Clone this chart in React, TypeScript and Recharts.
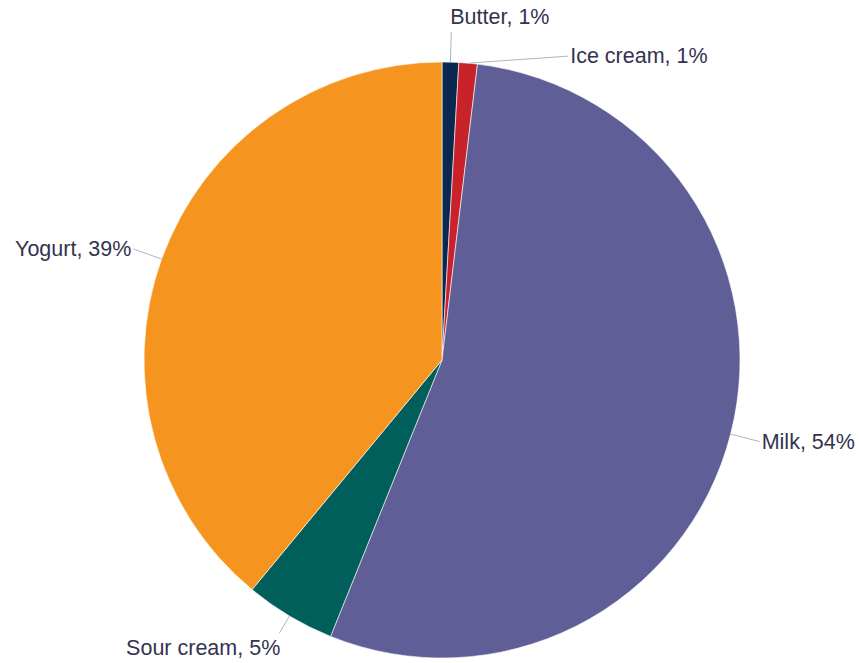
import { PieChart, Pie, Cell } from "recharts";

const categories = ["Butter", "Ice cream", "Milk", "Sour cream", "Yogurt"];
const shares = [0.9, 1.0, 54.2, 4.9, 39.0];
const colors = ["#0b2850", "#c8232b", "#5f5e96", "#005f5b", "#f5951f"];

const data = categories.map((name, i) => ({ name, value: shares[i] }));

const RAD = Math.PI / 180;
const TEXT = "#33334f";
const LINE = "#aab6c8";

// per-label tweaks so the small slices don't collide
type Tweak = { len?: number; endDx?: number; endDy?: number; tdx?: number; tdy?: number; anchor?: "start" | "end" };
const labelTweaks: Record<string, Tweak> = {
  Butter: { len: 30, tdx: -1, tdy: -15, anchor: "start" },
  "Ice cream": { endDx: 100, endDy: -7 },
  "Sour cream": { len: 20, tdx: 1, tdy: 15, anchor: "end" },
};

const renderLabel = (props: any) => {
  const { cx, cy, midAngle, outerRadius, name, percent } = props;
  const t = labelTweaks[name] || {};
  const cos = Math.cos(-midAngle * RAD);
  const sin = Math.sin(-midAngle * RAD);
  const sx = cx + outerRadius * cos;
  const sy = cy + outerRadius * sin;
  let ex: number, ey: number;
  if (t.endDx !== undefined) {
    ex = sx + t.endDx;
    ey = sy + (t.endDy || 0);
  } else {
    const len = t.len ?? 30;
    ex = cx + (outerRadius + len) * cos;
    ey = cy + (outerRadius + len) * sin;
  }
  const anchor = t.anchor ?? (ex >= cx ? "start" : "end");
  const tx = ex + (t.tdx ?? (anchor === "start" ? 2 : -2));
  const ty = ey + (t.tdy ?? 0);
  return (
    <g>
      <line x1={sx} y1={sy} x2={ex} y2={ey} stroke={LINE} strokeWidth={1} />
      <text
        x={tx}
        y={ty}
        textAnchor={anchor}
        dominantBaseline="central"
        fill={TEXT}
        fontSize={21.5}
        fontFamily="'Liberation Sans', Arial, sans-serif"
      >
        {`${name}, ${Math.round(percent * 100)}%`}
      </text>
    </g>
  );
};

export default function App() {
  return (
    <div style={{ position: "absolute", left: 0, top: 0, width: 859, height: 663, background: "#fff" }}>
      <PieChart width={859} height={663} margin={{ top: 0, right: 0, bottom: 0, left: 0 }}>
        <Pie
          data={data}
          dataKey="value"
          nameKey="name"
          cx={442}
          cy={360}
          outerRadius={298}
          startAngle={90}
          endAngle={-270}
          stroke="#ffffff"
          strokeWidth={0.6}
          label={renderLabel}
          labelLine={false}
          isAnimationActive={false}
        >
          {data.map((d, i) => (
            <Cell key={d.name} fill={colors[i]} />
          ))}
        </Pie>
      </PieChart>
    </div>
  );
}
